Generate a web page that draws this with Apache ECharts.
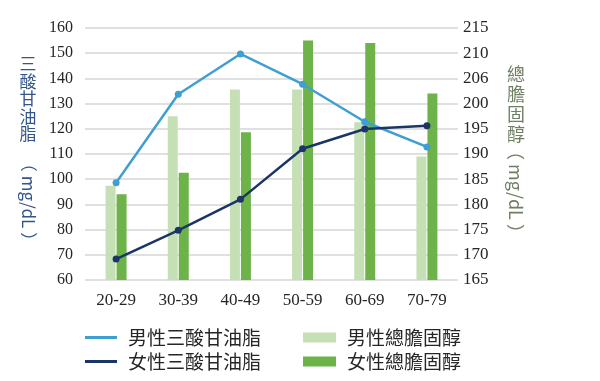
<!DOCTYPE html>
<html>
<head>
<meta charset="utf-8">
<script src="https://cdn.jsdelivr.net/npm/echarts@6/dist/echarts.min.js"></script>
<style>
html,body{margin:0;padding:0;background:#fff;}
#c{width:600px;height:381px;}
</style>
</head>
<body>
<div id="c"></div>
<script>
var categories = ['20-29','30-39','40-49','50-59','60-69','70-79'];
var maleTG = [98.6, 133.7, 149.7, 137.7, 122.8, 112.8];
var femaleTG = [68.3, 79.7, 92.0, 112.1, 119.9, 121.2];
var maleChol = [183.7, 197.5, 202.8, 202.8, 196.3, 189.5];
var femaleChol = [182.0, 186.3, 194.3, 212.5, 212.0, 202.0];
var leftTickLabels = ['60','70','80','90','100','110','120','130','140','150','160'];
var rightTickLabels = ['165','170','175','180','185','190','195','200','206','210','215'];
var seriesNames = ['男性三酸甘油脂','女性三酸甘油脂','男性總膽固醇','女性總膽固醇'];
var leftAxisTitle = '三酸甘油脂';
var rightAxisTitle = '總膽固醇';
var unitText = '（ mg/dL ）';

var chart = echarts.init(document.getElementById('c'), null, {renderer:'canvas'});
var serif = '"Liberation Serif", "Times New Roman", serif';
var cjk = '"Noto Sans CJK TC", "Noto Sans", sans-serif';

function charColumn(str, cx, y0, step, size, color){
  return str.split('').map(function(ch, i){
    return {
      type: 'text', x: cx, y: y0 + i*step, silent: true,
      style: {text: ch, fontFamily: cjk, fontSize: size, fill: color,
              align: 'center', verticalAlign: 'middle'}
    };
  });
}

var leftColor = '#34558c', rightColor = '#6f7f62';
var graphics = []
  .concat(charColumn(leftAxisTitle, 28, 64, 17.5, 17, leftColor))
  .concat(charColumn(rightAxisTitle, 516, 74, 20, 18, rightColor));
graphics.push({
  type: 'text', x: 28, y: 202, rotation: -Math.PI/2, silent: true,
  style: {text: unitText, fontFamily: cjk, fontSize: 17, fill: leftColor, align: 'center', verticalAlign: 'middle'}
});
graphics.push({
  type: 'text', x: 516, y: 192, rotation: -Math.PI/2, silent: true,
  style: {text: unitText, fontFamily: cjk, fontSize: 18, fill: rightColor, align: 'center', verticalAlign: 'middle'}
});

function legendItem(name, left, top, h, w){
  return {
    left: left, top: top, padding: 0, itemWidth: w, itemHeight: h, icon: 'rect',
    data: [name], selectedMode: false,
    textStyle: {fontFamily: cjk, fontSize: 19, color: '#262626', padding: [0,0,0,6]}
  };
}

var option = {
  backgroundColor: '#ffffff',
  animation: false,
  grid: {left: 85, right: 142, top: 28, bottom: 101},
  legend: [
    legendItem(seriesNames[0], 85, 328, 3, 32),
    legendItem(seriesNames[1], 85, 352, 3, 32),
    legendItem(seriesNames[2], 303, 328, 10, 33),
    legendItem(seriesNames[3], 303, 352, 10, 33)
  ],
  xAxis: {
    type: 'category', data: categories,
    axisLine: {show: false}, axisTick: {show: false},
    axisLabel: {fontFamily: serif, fontSize: 17, color: '#262626', margin: 12}
  },
  yAxis: [{
    type: 'value', min: 60, max: 160, interval: 10,
    axisLine: {show: false}, axisTick: {show: false},
    splitLine: {lineStyle: {color: '#d6d6d6', width: 1.5}},
    axisLabel: {fontFamily: serif, fontSize: 16, color: '#262626', margin: 12,
      formatter: function(v){ return leftTickLabels[Math.round((v-60)/10)]; }}
  },{
    type: 'value', min: 165, max: 215, interval: 5,
    axisLine: {show: false}, axisTick: {show: false},
    splitLine: {show: false},
    axisLabel: {fontFamily: serif, fontSize: 17, color: '#262626', margin: 5,
      formatter: function(v){ return rightTickLabels[Math.round((v-165)/5)]; }}
  }],
  series: [{
    name: seriesNames[2], type: 'bar', yAxisIndex: 1, data: maleChol,
    barWidth: 10, barGap: '10%', itemStyle: {color: '#c6e0b5'}, z: 2
  },{
    name: seriesNames[3], type: 'bar', yAxisIndex: 1, data: femaleChol,
    barWidth: 10, barGap: '10%', itemStyle: {color: '#6db34a'}, z: 2
  },{
    name: seriesNames[0], type: 'line', yAxisIndex: 0, data: maleTG,
    symbol: 'circle', symbolSize: 7,
    lineStyle: {color: '#3f9fd2', width: 2.5}, itemStyle: {color: '#3f9fd2'}, z: 5
  },{
    name: seriesNames[1], type: 'line', yAxisIndex: 0, data: femaleTG,
    symbol: 'circle', symbolSize: 7,
    lineStyle: {color: '#1c3567', width: 2.5}, itemStyle: {color: '#1c3567'}, z: 6
  }],
  graphic: graphics
};
chart.setOption(option);
</script>
</body>
</html>
